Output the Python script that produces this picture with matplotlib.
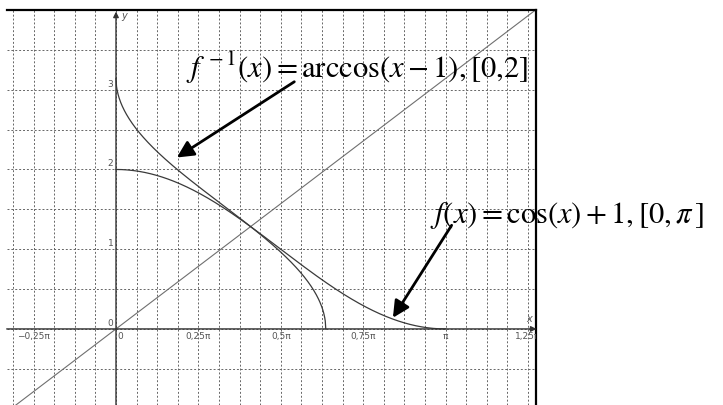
import numpy as np
import matplotlib.pyplot as plt

plt.rcParams['mathtext.fontset'] = 'stix'

# domains of the two curves (from the labels)
f_domain = [0, np.pi]
finv_domain = [0, 2]

# tick labels
xtick_pos = [-0.25 * np.pi, 0, 0.25 * np.pi, 0.5 * np.pi, 0.75 * np.pi, np.pi, 1.25 * np.pi]
xtick_labels = ["\u22120,25\u03c0", "0", "0,25\u03c0", "0,5\u03c0", "0,75\u03c0", "\u03c0", "1,25\u03c0"]
ytick_pos = [0, 1, 2, 3]
ytick_labels = ["0", "1", "2", "3"]

# annotation arrows: (tip, tail)
arrow_finv = [(0.58, 2.15), (1.70, 3.10)]
arrow_f = [(2.64, 0.14), (3.20, 1.30)]

xmin, xmax = -1.042, 4.009
ymin, ymax = -0.954, 4.0

fig = plt.figure(figsize=(7.23, 4.05), dpi=100)
ax = fig.add_axes([6.7 / 723, 0.0, (536.5 - 6.7) / 723, 395 / 405])
ax.set_xlim(xmin, xmax)
ax.set_ylim(ymin, ymax)

# grid: pi/16 vertically, 0.5 horizontally
ax.set_xticks(np.arange(-5, 21) * np.pi / 16)
ax.set_yticks(np.arange(-1, 8) * 0.5)
ax.tick_params(length=0, labelbottom=False, labelleft=False)
ax.grid(True, color='#666666', lw=0.7, linestyle=(0, (2, 2)))
ax.set_axisbelow(True)

for s in ['left', 'bottom']:
    ax.spines[s].set_visible(False)
for s in ['top', 'right']:
    ax.spines[s].set_linewidth(1.6)
    ax.spines[s].set_color('black')

# axes with arrows
ax.annotate('', xy=(xmax, 0), xytext=(xmin, 0),
            arrowprops=dict(arrowstyle='-|>', color='#333333', lw=1.0,
                            mutation_scale=8, shrinkA=0, shrinkB=0))
ax.annotate('', xy=(0, ymax - 0.02), xytext=(0, ymin),
            arrowprops=dict(arrowstyle='-|>', color='#333333', lw=1.0,
                            mutation_scale=8, shrinkA=0, shrinkB=0))
ax.text(3.94, 0.12, 'x', fontsize=7, style='italic', color='#555555', ha='center', va='center')
ax.text(0.075, 3.92, 'y', fontsize=7, style='italic', color='#555555', ha='center', va='center')

for xp, lab in zip(xtick_pos, xtick_labels):
    if lab == "0":
        ax.text(xp + 0.01, -0.10, lab, fontsize=6.5, color='#555555', ha='left', va='center')
    else:
        ax.text(xp, -0.10, lab, fontsize=6.5, color='#555555', ha='center', va='center', clip_on=True)
for yp, lab in zip(ytick_pos, ytick_labels):
    ax.text(-0.025, yp + 0.07, lab, fontsize=6.5, color='#555555', ha='right', va='center')

# line y = x
ax.plot([xmin, xmax], [xmin, xmax], color='#6f6f6f', lw=0.8)

# f(x) = cos(x) + 1 and its inverse
x1 = np.linspace(f_domain[0], f_domain[1], 400)
ax.plot(x1, np.cos(x1) + 1, color='#3a3a3a', lw=0.9)
x2 = np.linspace(finv_domain[0], finv_domain[1], 400)
ax.plot(x2, np.arccos(x2 - 1), color='#3a3a3a', lw=0.9)

# labels
ax.text(0.667, 3.15, r"$f^{\,-1}(x) = \mathrm{arccos}(x-1), [0{,}2]$",
        fontsize=22, ha='left', va='baseline')
ax.text(2.99, 1.33, r"$f(x) = \mathrm{cos}(x) + 1, [0,\pi\,]$",
        fontsize=22, ha='left', va='baseline')

for tip, tail in [arrow_finv, arrow_f]:
    ax.annotate('', xy=tip, xytext=tail,
                arrowprops=dict(arrowstyle='-|>', color='black', lw=2,
                                mutation_scale=25, shrinkA=0, shrinkB=0))

fig.savefig('out.png', dpi=100)
